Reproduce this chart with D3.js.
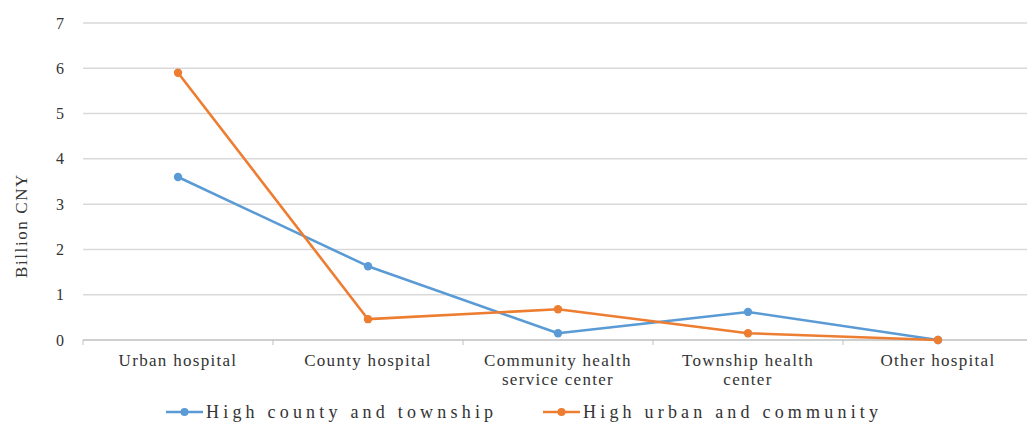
<!DOCTYPE html>
<html>
<head>
<meta charset="utf-8">
<script src="https://cdn.jsdelivr.net/npm/d3@7"></script>
<style>
  html, body { margin: 0; padding: 0; background: #fff; }
  svg { display: block; }
</style>
</head>
<body>
<svg id="chart" width="1027" height="425"></svg>
<script>
const categories = [
  ["Urban hospital"],
  ["County hospital"],
  ["Community health", "service center"],
  ["Township health", "center"],
  ["Other hospital"]
];
const seriesNames = ["High county and township", "High urban and community"];
const countyTownship = [3.6, 1.63, 0.15, 0.62, 0.0];
const urbanCommunity = [5.9, 0.46, 0.68, 0.15, 0.0];
const yTicks = [0, 1, 2, 3, 4, 5, 6, 7];
const colors = ["#5B9BD5", "#ED7D31"];

const FONT = "'Liberation Serif', 'DejaVu Serif', 'Times New Roman', Times, serif";
const TEXT_COLOR = "#333";

const svg = d3.select("#chart")
  .attr("font-family", FONT);
const margin = { left: 83, top: 23, bottom: 340 };
const plotRight = 1033;

const x = d3.scaleBand()
  .domain(d3.range(categories.length))
  .range([margin.left, plotRight])
  .paddingInner(0).paddingOuter(0);

const y = d3.scaleLinear().domain([0, 7]).range([margin.bottom, margin.top]);

// horizontal gridlines
svg.append("g")
  .selectAll("line")
  .data(yTicks.filter(d => d > 0))
  .join("line")
  .attr("x1", margin.left).attr("x2", plotRight)
  .attr("y1", d => y(d)).attr("y2", d => y(d))
  .attr("stroke", "#d9d9d9").attr("stroke-width", 1.5);

// y axis labels
svg.append("g")
  .selectAll("text")
  .data(yTicks)
  .join("text")
  .attr("x", 64).attr("y", d => y(d))
  .attr("dy", "0.35em")
  .attr("text-anchor", "end")
  .attr("font-size", 16)
  .attr("font-family", FONT)
  .attr("fill", TEXT_COLOR)
  .text(d => d);

// y axis title
svg.append("text")
  .attr("transform", `translate(27,${(margin.top + margin.bottom) / 2 + 44}) rotate(-90)`)
  .attr("text-anchor", "middle")
  .attr("font-size", 17)
  .attr("letter-spacing", "1.6px")
  .attr("font-family", FONT)
  .attr("fill", TEXT_COLOR)
  .text("Billion CNY");

// x axis with ticks between categories
const xAxis = svg.append("g");
xAxis.append("line")
  .attr("x1", margin.left).attr("x2", plotRight)
  .attr("y1", y(0)).attr("y2", y(0))
  .attr("stroke", "#bfbfbf").attr("stroke-width", 1.5);
xAxis.selectAll("line.tick")
  .data(d3.range(categories.length + 1))
  .join("line")
  .attr("class", "tick")
  .attr("x1", i => margin.left + i * x.step())
  .attr("x2", i => margin.left + i * x.step())
  .attr("y1", y(0)).attr("y2", y(0) + 5)
  .attr("stroke", "#bfbfbf");

const catLabels = xAxis.selectAll("text.cat")
  .data(categories)
  .join("text")
  .attr("class", "cat")
  .attr("x", (d, i) => x(i) + x.bandwidth() / 2)
  .attr("y", 366)
  .attr("text-anchor", "middle")
  .attr("font-size", 17)
  .attr("letter-spacing", "1.3px")
  .attr("font-family", FONT)
  .attr("fill", TEXT_COLOR);
catLabels.selectAll("tspan")
  .data(d => d)
  .join("tspan")
  .attr("x", function () { return d3.select(this.parentNode).attr("x"); })
  .attr("dy", (d, i) => i === 0 ? 0 : 19)
  .text(d => d);

// series lines and markers
const seriesData = [countyTownship, urbanCommunity];
const line = d3.line()
  .x((d, i) => x(i) + x.bandwidth() / 2)
  .y(d => y(d));

seriesData.forEach((vals, s) => {
  const g = svg.append("g");
  g.append("path")
    .datum(vals)
    .attr("d", line)
    .attr("fill", "none")
    .attr("stroke", colors[s])
    .attr("stroke-width", 2.6)
    .attr("stroke-linejoin", "round");
  g.selectAll("circle")
    .data(vals)
    .join("circle")
    .attr("cx", (d, i) => x(i) + x.bandwidth() / 2)
    .attr("cy", d => y(d))
    .attr("r", 4.2)
    .attr("fill", colors[s]);
});

// legend
const legendItems = [
  { name: seriesNames[0], color: colors[0], x0: 166 },
  { name: seriesNames[1], color: colors[1], x0: 543 }
];
const lg = svg.append("g");
legendItems.forEach(it => {
  lg.append("line")
    .attr("x1", it.x0).attr("x2", it.x0 + 37)
    .attr("y1", 412).attr("y2", 412)
    .attr("stroke", it.color).attr("stroke-width", 2.6);
  lg.append("circle")
    .attr("cx", it.x0 + 18.5).attr("cy", 412).attr("r", 4)
    .attr("fill", it.color);
  lg.append("text")
    .attr("x", it.x0 + 40).attr("y", 412)
    .attr("dy", "0.35em")
    .attr("font-size", 18)
    .attr("font-family", FONT)
    .attr("fill", TEXT_COLOR)
    .attr("letter-spacing", "4.2px")
    .text(it.name);
});
</script>
</body>
</html>
